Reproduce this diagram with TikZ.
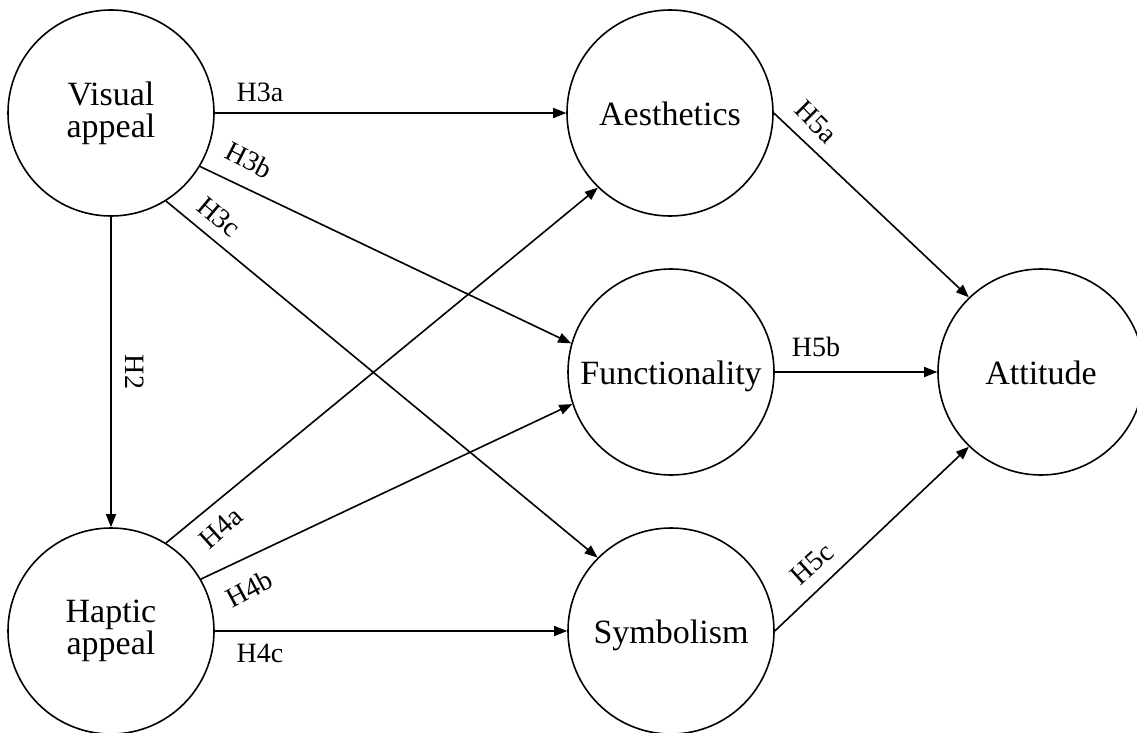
\documentclass[tikz,border=0pt]{standalone}
\usepackage{fontspec}
\setmainfont{Liberation Serif}
\usetikzlibrary{arrows.meta}
\begin{document}
\begin{tikzpicture}[x=1pt,y=-1pt,
  construct/.style={circle,draw,line width=1.6pt,minimum size=206pt,inner sep=0pt,align=center,font=\fontsize{34}{32}\selectfont},
  single/.style={text height=24pt,text depth=0pt},
  link/.style={draw,line width=1.6pt,-{Triangle[length=13pt,width=10pt]}},
  lbl/.style={font=\fontsize{28}{30}\selectfont,inner sep=0pt}]
\useasboundingbox (0,0) rectangle (1137,733);
\node[construct] (V) at (111,113) {Visual\\appeal};
\node[construct] (H) at (111,631) {Haptic\\appeal};
\node[construct,single] (A) at (670,113) {Aesthetics};
\node[construct,single] (F) at (671,372) {Functionality};
\node[construct,single] (S) at (671,631) {Symbolism};
\node[construct,single] (T) at (1041,372) {Attitude};

\draw[link] (V.east) -- (A.west);
\draw[link] (V.-31) -- (F.164);
\draw[link] (V.-58) -- (S.135);
\draw[link] (V.south) -- (H.north);
\draw[link] (H.58) -- (A.226);
\draw[link] (H.30) -- (F.198);
\draw[link] (H.east) -- (S.west);
\draw[link] (A.east) -- (T.134);
\draw[link] (F.east) -- (T.west);
\draw[link] (S.east) -- (T.226);

\node[lbl] (l3a) at (260,92) {H3a};
\node[lbl,rotate=-27] (l3b) at (249,160) {H3b};
\node[lbl,rotate=-40] (l3c) at (219,217) {H3c};
\node[lbl,rotate=-90] (l2) at (135,372) {H2};
\node[lbl,rotate=42] (l4a) at (221,528) {H4a};
\node[lbl,rotate=28] (l4b) at (249,589) {H4b};
\node[lbl] (l4c) at (260,653) {H4c};
\node[lbl,rotate=-45] (l5a) at (816,122) {H5a};
\node[lbl] (l5b) at (816,347) {H5b};
\node[lbl,rotate=42] (l5c) at (812,564) {H5c};
\end{tikzpicture}
\end{document}
